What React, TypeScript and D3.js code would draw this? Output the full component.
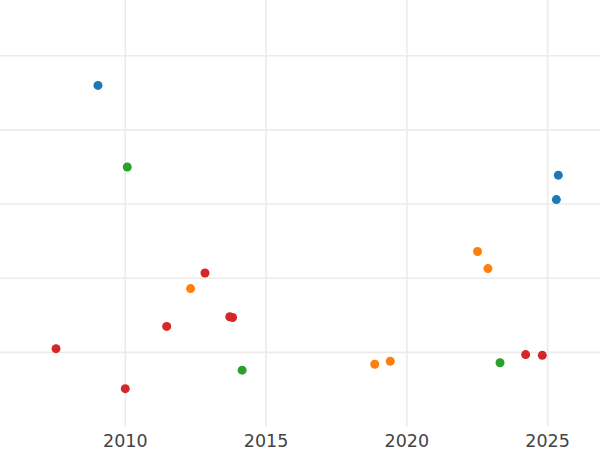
import React from "react";
import * as d3 from "d3";

const seriesNames = ["blue", "orange", "green", "red"];
const seriesColors = ["#1f77b4", "#ff7f0e", "#2ca02c", "#d62728"];

const blueX = [2009.03, 2025.38, 2025.31];
const blueY = [4.6, 3.39, 3.06];
const greenX = [2010.07, 2014.15, 2023.31];
const greenY = [3.5, 0.76, 0.86];
const orangeX = [2012.32, 2022.51, 2022.88, 2018.86, 2019.41];
const orangeY = [1.86, 2.36, 2.13, 0.84, 0.88];
const redX = [2007.54, 2010.0, 2011.47, 2012.83, 2013.71, 2013.81, 2024.22, 2024.81];
const redY = [1.05, 0.51, 1.35, 2.07, 1.48, 1.47, 0.97, 0.96];

const xTicks = [2010, 2015, 2020, 2025];
const yTicks = [1, 2, 3, 4, 5];

const W = 600;
const H = 450;
const plotBottom = 426.5;

export default function App() {
  const x = d3.scaleLinear().domain([2005.55, 2026.86]).range([0, W]);
  const y = d3.scaleLinear().domain([0, 5.752]).range([plotBottom, 0]);

  const series = [
    { name: "blue", xs: blueX, ys: blueY, color: seriesColors[0] },
    { name: "orange", xs: orangeX, ys: orangeY, color: seriesColors[1] },
    { name: "green", xs: greenX, ys: greenY, color: seriesColors[2] },
    { name: "red", xs: redX, ys: redY, color: seriesColors[3] },
  ];

  return (
    <svg
      width={W}
      height={H}
      style={{ position: "absolute", left: 0, top: 0, background: "#fff" }}
    >
      <g>
        {xTicks.map((t) => (
          <line
            key={"vx" + t}
            x1={x(t)}
            x2={x(t)}
            y1={0}
            y2={plotBottom}
            stroke="#ebebeb"
            strokeWidth={1.6}
          />
        ))}
        {yTicks.map((t) => (
          <line
            key={"hy" + t}
            x1={0}
            x2={W}
            y1={y(t)}
            y2={y(t)}
            stroke="#ebebeb"
            strokeWidth={1.6}
          />
        ))}
      </g>
      <g>
        {series.map((s) =>
          s.xs.map((xv, i) => (
            <circle
              key={s.name + i}
              cx={x(xv)}
              cy={y(s.ys[i])}
              r={4.5}
              fill={s.color}
            />
          ))
        )}
      </g>
      <g>
        {xTicks.map((t) => (
          <text
            key={"tx" + t}
            x={x(t)}
            y={447}
            textAnchor="middle"
            fontFamily="DejaVu Sans"
            fontSize={17.5}
            fill="#444"
          >
            {t}
          </text>
        ))}
      </g>
    </svg>
  );
}
